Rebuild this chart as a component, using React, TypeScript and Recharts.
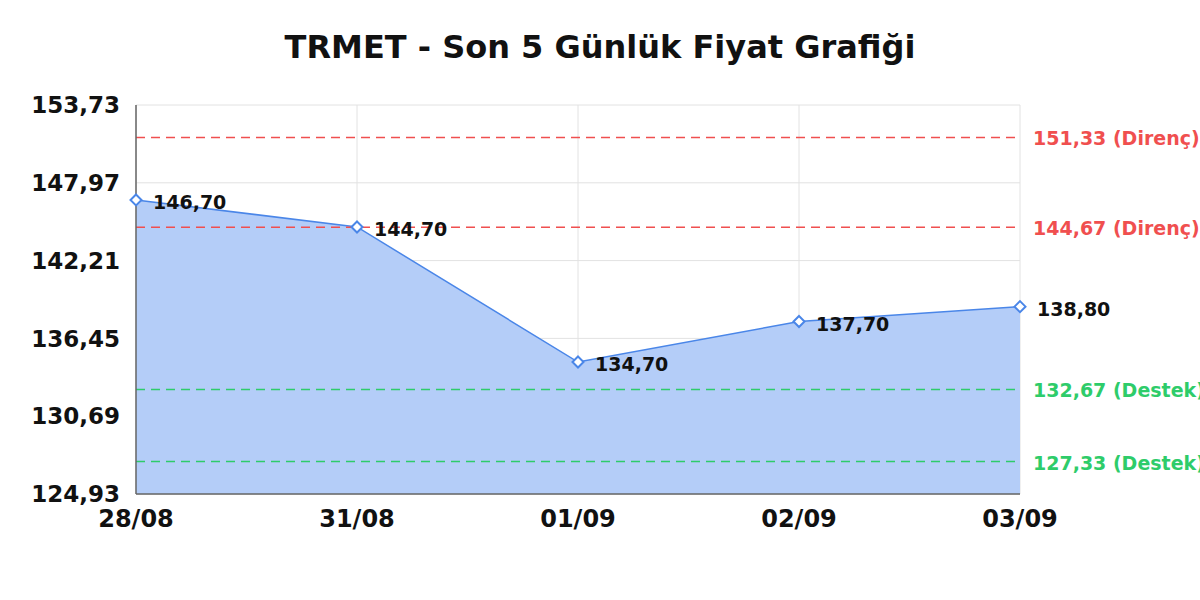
import {
  AreaChart,
  Area,
  XAxis,
  YAxis,
  CartesianGrid,
  ReferenceLine,
  LabelList
} from 'recharts';

const dates = ['28/08', '31/08', '01/09', '02/09', '03/09'];
const prices = [146.7, 144.7, 134.7, 137.7, 138.8];
const yTicks = [124.93, 130.69, 136.45, 142.21, 147.97, 153.73];
const resistance = [151.33, 144.67];
const support = [132.67, 127.33];

const RED = '#f04f4f';
const GREEN = '#2ecc6a';
const FONT = 'DejaVu Sans, sans-serif';

const fmt = (v: number) => v.toFixed(2).replace('.', ',');

const data = dates.map((d, i) => ({ date: d, price: prices[i] }));

// içi boş mavi elmas işaretçi
function Diamond(props: any) {
  const { cx, cy } = props;
  if (cx == null || cy == null) return null;
  const r = 5.5;
  return (
    <path
      d={`M${cx},${cy - r} L${cx + r},${cy} L${cx},${cy + r} L${cx - r},${cy} Z`}
      fill="#fff"
      stroke="#4a86e8"
      strokeWidth={2}
    />
  );
}

function PriceLabel(props: any) {
  const { x, y, value } = props;
  return (
    <text
      x={x + 17}
      y={y + 2}
      dominantBaseline="central"
      fontFamily={FONT}
      fontWeight="bold"
      fontSize={19}
      fill="#111"
    >
      {fmt(value)}
    </text>
  );
}

function refLabel(value: number, kind: string, color: string) {
  return (props: any) => {
    const { viewBox } = props;
    return (
      <text
        x={viewBox.x + viewBox.width + 13}
        y={viewBox.y + 1}
        dominantBaseline="central"
        fontFamily={FONT}
        fontWeight="bold"
        fontSize={19}
        fill={color}
      >
        {`${fmt(value)} (${kind})`}
      </text>
    );
  };
}

export default function App() {
  return (
    <div style={{ position: 'absolute', left: 0, top: 0, width: 1200, height: 600, background: '#fff', overflow: 'hidden' }}>
      <div
        style={{
          position: 'absolute',
          top: 28,
          width: 1200,
          textAlign: 'center',
          fontFamily: FONT,
          fontWeight: 'bold',
          fontSize: 32,
          color: '#111'
        }}
      >
        TRMET - Son 5 Günlük Fiyat Grafiği
      </div>
      <AreaChart
        width={1200}
        height={600}
        data={data}
        margin={{ top: 105, right: 180, bottom: 76, left: 0 }}
      >
        <CartesianGrid stroke="#e2e2e2" strokeWidth={1} />
        <XAxis
          dataKey="date"
          scale="point"
          padding={{ left: 0, right: 0 }}
          tickLine={false}
          axisLine={{ stroke: '#666', strokeWidth: 1.5 }}
          tick={{ fontFamily: FONT, fontWeight: 'bold', fontSize: 24, fill: '#111' }}
          tickMargin={10}
        />
        <YAxis
          width={136}
          domain={[124.93, 153.73]}
          ticks={yTicks}
          tickFormatter={fmt}
          tickLine={false}
          axisLine={{ stroke: '#666', strokeWidth: 1.5 }}
          tick={{ fontFamily: FONT, fontWeight: 'bold', fontSize: 23, fill: '#111' }}
          tickMargin={10}
        />
        {resistance.map((v) => (
          <ReferenceLine
            key={'r' + v}
            y={v}
            stroke={RED}
            strokeWidth={1.5}
            strokeDasharray="9 6"
            label={refLabel(v, 'Direnç', RED)}
          />
        ))}
        {support.map((v) => (
          <ReferenceLine
            key={'s' + v}
            y={v}
            stroke={GREEN}
            strokeWidth={1.5}
            strokeDasharray="9 6"
            label={refLabel(v, 'Destek', GREEN)}
          />
        ))}
        <Area
          type="linear"
          dataKey="price"
          stroke="#4a86e8"
          strokeWidth={1.5}
          fill="#b4cdf8"
          fillOpacity={1}
          dot={<Diamond />}
          activeDot={false}
          isAnimationActive={false}
        >
          <LabelList dataKey="price" content={<PriceLabel />} />
        </Area>
      </AreaChart>
    </div>
  );
}
